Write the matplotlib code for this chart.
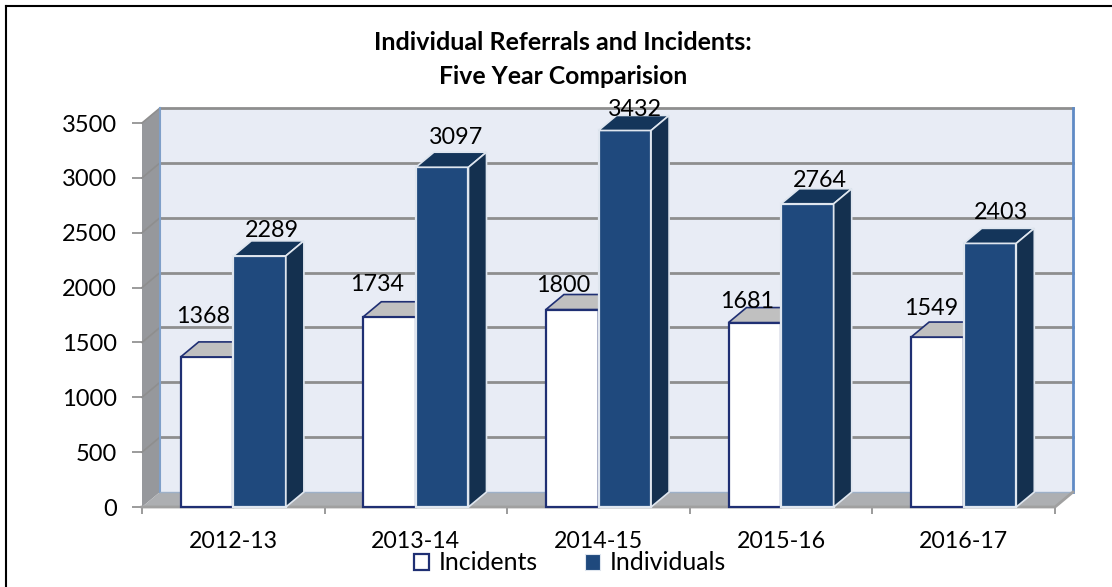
import matplotlib
matplotlib.use("Agg")
import matplotlib.pyplot as plt
from matplotlib.patches import Patch

plt.rcParams["font.family"] = ["Lato", "DejaVu Sans"]

years = ["2012-13", "2013-14", "2014-15", "2015-16", "2016-17"]
incidents = [1368, 1734, 1800, 1681, 1549]
individuals = [2289, 3097, 3432, 2764, 2403]
y_ticks = [0, 500, 1000, 1500, 2000, 2500, 3000, 3500]

# label nudges in px, from the bar's front-top centre
inc_nudge = [(-4, 40), (-12, 32), (-9, 24), (-8, 21), (-6, 29)]
ind_nudge = [(12, 25), (14, 30), (10, 21), (12, 23), (11, 31)]

W, H = 1112, 587
fig = plt.figure(figsize=(W / 100, H / 100), dpi=100)
ax = fig.add_axes([142 / W, (H - 507) / H, 913 / W, 384 / H])
ax.set_xlim(0, 5)
ax.set_ylim(0, 3500)
ax.patch.set_visible(False)
for s in ax.spines.values():
    s.set_visible(False)

# depth of the fake 3d box, in data units
dx = 18 / 913 * 5
dy = 15 / 384 * 3500
n = len(years)
bar_w = 0.288

grid_c = "#8e8e8e"
ax.fill([dx, n + dx, n + dx, dx], [dy, dy, 3500 + dy, 3500 + dy], color="#e8ecf5", lw=0, clip_on=False, zorder=1)
ax.fill([0, dx, dx, 0], [0, dy, 3500 + dy, 3500], color="#96989c", lw=0, clip_on=False, zorder=1)
ax.fill([0, n, n + dx, dx], [0, 0, dy, dy], color="#adafb2", lw=0, clip_on=False, zorder=1)

for t in y_ticks[1:]:
    ax.plot([dx, n + dx], [t + dy, t + dy], color=grid_c, lw=2, clip_on=False, zorder=2)
    ax.plot([0, dx], [t, t + dy], color=grid_c, lw=1.2, clip_on=False, zorder=2)
ax.plot([dx, dx], [dy, 3500 + dy], color="#7f9fc8", lw=1.5, clip_on=False, zorder=2)
ax.plot([n + dx, n + dx], [dy, 3500 + dy], color="#5f8ac5", lw=2, clip_on=False, zorder=2)
ax.plot([dx, n + dx], [dy, dy], color="#9db0c8", lw=1, clip_on=False, zorder=2)
ax.plot([0, n, n + dx], [0, 0, dy], color="#a0a0a0", lw=2, clip_on=False, zorder=2)


def bar3d(x, v, front, top, side, edge, z):
    ax.bar(x, v, bar_w, align="edge", color=front, edgecolor=edge, lw=1.6, clip_on=False, zorder=z)
    ax.fill([x, x + bar_w, x + bar_w + dx, x + dx], [v, v, v + dy, v + dy],
            facecolor=top, edgecolor=edge, lw=1.2, clip_on=False, zorder=z)
    ax.fill([x + bar_w, x + bar_w + dx, x + bar_w + dx, x + bar_w], [0, dy, v + dy, v],
            facecolor=side, edgecolor=edge, lw=1.2, clip_on=False, zorder=z)


for i in range(n):
    x = i + 0.5
    bar3d(x - bar_w, incidents[i], "white", "#c0c0c0", "#c0c0c0", "#1f2f73", 3 + 2 * i)
    bar3d(x, individuals[i], "#1f497d", "#14355a", "#14304f", "#dfe6ef", 4 + 2 * i)

for i in range(n):
    x = i + 0.5
    ax.annotate(str(incidents[i]), (x - bar_w / 2, incidents[i]), xytext=(inc_nudge[i][0] * 0.72, inc_nudge[i][1] * 0.72),
                textcoords="offset points", ha="center", va="center", fontsize=16.8, color="black", zorder=30, annotation_clip=False)
    ax.annotate(str(individuals[i]), (x + bar_w / 2, individuals[i]), xytext=(ind_nudge[i][0] * 0.72, ind_nudge[i][1] * 0.72),
                textcoords="offset points", ha="center", va="center", fontsize=16.8, color="black", zorder=30, annotation_clip=False)

ax.set_yticks(y_ticks)
ax.tick_params(axis="y", length=7, width=1.2, color="#8a8a8a", labelsize=17, pad=11)
ax.set_xticks(range(n + 1))
ax.set_xticklabels([])
ax.tick_params(axis="x", which="major", length=5, width=1.2, color="#8a8a8a")
ax.set_xticks([i + 0.5 for i in range(n)], minor=True)
ax.set_xticklabels(years, minor=True, fontsize=16.7)
ax.tick_params(axis="x", which="minor", length=0, pad=17)

fig.text(563 / W, 1 - 43 / H, "Individual Referrals and Incidents:", ha="center", va="center", fontsize=18, fontweight="bold")
fig.text(563 / W, 1 - 76 / H, "Five Year Comparision", ha="center", va="center", fontsize=17.8, fontweight="bold")

handles = [Patch(facecolor="white", edgecolor="#1f2f73", lw=1.6, label="Incidents"),
           Patch(facecolor="#1f497d", edgecolor="#dfe6ef", lw=0.8, label="Individuals")]
fig.legend(handles=handles, loc="center", bbox_to_anchor=(570 / W, 1 - 563 / H), ncol=2, frameon=False,
           fontsize=17.9, handlelength=0.6, handleheight=0.6, handletextpad=0.4, columnspacing=1.9, borderpad=0)

# page border, only top and left show
fig.add_artist(plt.Line2D([6 / W, 6 / W], [0, 1 - 6 / H], color="black", lw=1.5))
fig.add_artist(plt.Line2D([6 / W, 1], [1 - 6 / H, 1 - 6 / H], color="black", lw=1.5))

fig.savefig("out.png", dpi=100)
